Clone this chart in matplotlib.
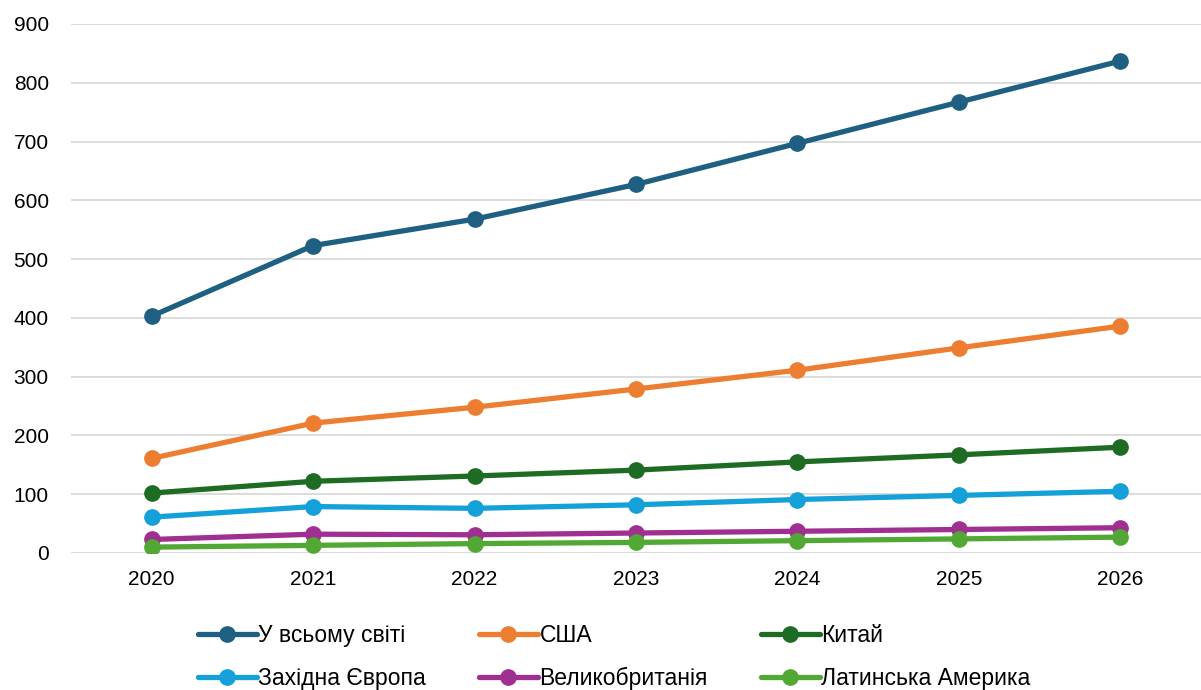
import matplotlib.pyplot as plt

years = ['2020', '2021', '2022', '2023', '2024', '2025', '2026']

world = [403, 523, 568, 627, 697, 767, 837]
usa = [161, 221, 248, 279, 311, 349, 386]
china = [102, 122, 131, 141, 155, 167, 180]
west_europe = [61, 79, 76, 82, 91, 98, 105]
uk = [23, 32, 31, 34, 37, 40, 43]
latam = [10, 13, 16, 18, 21, 24, 27]

names = ['У всьому світі', 'США', 'Китай', 'Західна Європа', 'Великобританія', 'Латинська Америка']
series = [world, usa, china, west_europe, uk, latam]
colors = ['#1F5F82', '#ED7D31', '#1E6B24', '#14A0D8', '#A02F92', '#52A834']

plt.rcParams['font.family'] = ['Liberation Sans', 'DejaVu Sans']

fig = plt.figure(figsize=(12.01, 6.9), dpi=100)
ax = fig.add_axes([71 / 1201, 137 / 690, 1130 / 1201, 529 / 690])

x = list(range(len(years)))
lines = []
for vals, name, c in zip(series, names, colors):
    ln, = ax.plot(x, vals, color=c, lw=3.8, marker='o', ms=11, label=name,
                  solid_capstyle='round')
    lines.append(ln)

ax.set_xlim(-0.5, 6.5)
ax.set_ylim(0, 900)
ax.set_yticks(range(0, 901, 100))
ax.set_xticks(x)
ax.set_xticklabels(years)
ax.tick_params(axis='both', length=0, labelsize=15, colors='black')
ax.tick_params(axis='y', pad=16)
ax.tick_params(axis='x', pad=12)
ax.grid(axis='y', color='#D9D9D9', lw=1.3)
ax.set_axisbelow(True)
for s in ax.spines.values():
    s.set_visible(False)

# legend is filled column by column, so reorder to read row by row
order = [0, 3, 1, 4, 2, 5]
fig.legend([lines[i] for i in order], [names[i] for i in order],
           loc='center', bbox_to_anchor=(614 / 1201, 1 - 657 / 690), ncol=3,
           frameon=False, handlelength=2.6, handletextpad=0.05, columnspacing=2.3,
           labelspacing=0.9, prop={'size': 16.5})

fig.savefig('out.png', dpi=100)
